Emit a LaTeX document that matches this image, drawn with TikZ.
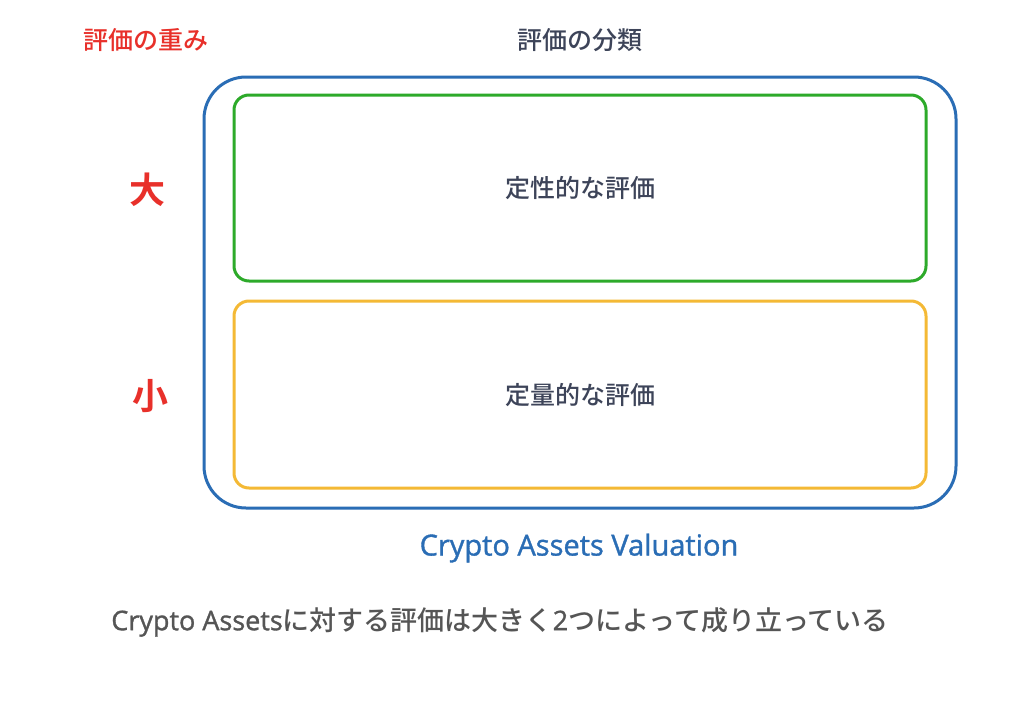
\documentclass[tikz,border=0pt]{standalone}
\usepackage{fontspec}
\setmainfont{Noto Sans CJK JP Medium}
\newfontfamily\jpbold{Noto Sans CJK JP Bold}
\newfontfamily\latin[FakeBold=1.2]{Open Sans}
\definecolor{cblue}{HTML}{2A6DB5}
\definecolor{cgreen}{HTML}{2DAA2A}
\definecolor{cyellow}{HTML}{F4B935}
\definecolor{cred}{HTML}{E8302A}
\definecolor{cdark}{HTML}{3D4459}
\definecolor{cgray}{HTML}{555555}
\begin{document}
\begin{tikzpicture}[x=1pt,y=-1pt,
  frame/.style={draw, line width=3pt, rounded corners=#1},
  lbl/.style={inner sep=0pt, anchor=center},
]
\useasboundingbox (0,0) rectangle (1024,709);
\path[fill=white] (0,0) rectangle (1024,709);
\node[frame=42pt, draw=cblue, minimum width=752pt, minimum height=431pt] (outer) at (580,292.5) {};
\node[frame=15pt, draw=cgreen, minimum width=692pt, minimum height=186pt] (qual) at (580,188) {};
\node[frame=15pt, draw=cyellow, minimum width=692pt, minimum height=187pt] (quant) at (580,394.5) {};
\node[lbl, text=cdark, font=\fontsize{25}{28}\selectfont] (qualt) at (580,188) {定性的な評価};
\node[lbl, text=cdark, font=\fontsize{25}{28}\selectfont] (quantt) at (580,395) {定量的な評価};
\node[lbl, text=cred, font=\fontsize{25}{28}\selectfont] (weight) at (146,40) {評価の重み};
\node[lbl, text=cdark, font=\fontsize{25}{28}\selectfont] (class) at (580,40) {評価の分類};
\node[lbl, text=cred, font=\jpbold\fontsize{36}{40}\selectfont] (big) at (147,190) {大};
\node[lbl, text=cred, font=\jpbold\fontsize{36}{40}\selectfont] (small) at (150,396) {小};
\node[lbl, text=cblue, font=\latin\fontsize{29}{32}\selectfont] (cav) at (579,548) {Crypto Assets Valuation};
\node[lbl, text=cgray, font=\fontsize{27}{30}\selectfont] (note) at (500,622) {{\latin Crypto Assets}に対する評価は大きく{\latin 2}つによって成り立っている};
\end{tikzpicture}
\end{document}
